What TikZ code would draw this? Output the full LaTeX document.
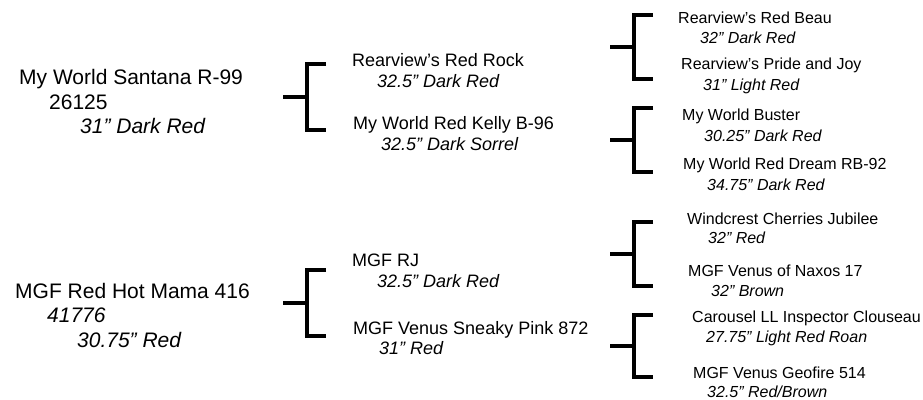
\documentclass[tikz,border=0pt]{standalone}
\usepackage{fontspec}
\setmainfont{Liberation Sans}
\usetikzlibrary{calc}
\newcommand\szA{\fontsize{21}{25}\selectfont}
\newcommand\szB{\fontsize{18}{22}\selectfont}
\newcommand\szC{\fontsize{16}{19}\selectfont}

\begin{document}
\begin{tikzpicture}[x=1pt, y=-1pt,
		every node/.style={anchor=base west, inner sep=0pt},
		genA/.style={font=\szA}, genAi/.style={font=\szA\itshape},
		genB/.style={font=\szB}, genBi/.style={font=\szB\itshape},
		genC/.style={font=\szC}, genCi/.style={font=\szC\itshape},
		bracket/.style={line width=4pt}]
		\useasboundingbox (0,0) rectangle (923,399);

		% generation 0
		\node[genA] (mws) at (19,84) {My World Santana R-99};
		\node[genA] (mwsn) at (49,109) {26125};
		\node[genAi] (mwsh) at (80,133) {31” Dark Red};
		\node[genA] (rhm) at (15,298) {MGF Red Hot Mama 416};
		\node[genAi] (rhmn) at (47,322) {41776};
		\node[genAi] (rhmh) at (77,347) {30.75” Red};

		% generation 1
		\node[genB] (rrr) at (352,66) {Rearview’s Red Rock};
		\node[genBi] (rrrh) at (377,87) {32.5” Dark Red};
		\node[genB] (mwk) at (353,129) {My World Red Kelly B-96};
		\node[genBi] (mwkh) at (381,150) {32.5” Dark Sorrel};
		\node[genB] (rj) at (352,266) {MGF RJ};
		\node[genBi] (rjh) at (377,287) {32.5” Dark Red};
		\node[genB] (vsp) at (353,334) {MGF Venus Sneaky Pink 872};
		\node[genBi] (vsph) at (379,354) {31” Red};

		% generation 2
		\node[genC] (rrb) at (678,23) {Rearview’s Red Beau};
		\node[genCi] (rrbh) at (700,43) {32” Dark Red};
		\node[genC] (rpj) at (681,69) {Rearview’s Pride and Joy};
		\node[genCi] (rpjh) at (703,90) {31” Light Red};
		\node[genC] (mwb) at (682,120) {My World Buster};
		\node[genCi] (mwbh) at (704,141) {30.25” Dark Red};
		\node[genC] (mwd) at (683,169) {My World Red Dream RB-92};
		\node[genCi] (mwdh) at (707,190) {34.75” Dark Red};
		\node[genC] (wcj) at (687,224) {Windcrest Cherries Jubilee};
		\node[genCi] (wcjh) at (708,243) {32” Red};
		\node[genC] (vn) at (688,276) {MGF Venus of Naxos 17};
		\node[genCi] (vnh) at (711,296) {32” Brown};
		\node[genC] (cic) at (692,322) {Carousel LL Inspector Clouseau};
		\node[genCi] (cich) at (706,342) {27.75” Light Red Roan};
		\node[genC] (vg) at (693,378) {MGF Venus Geofire 514};
		\node[genCi] (vgh) at (707,397) {32.5” Red/Brown};

		% brackets
		\foreach \n/\x/\y/\h in {ba/283/97/33, bb/283/303/33, bc/610/47/32, bd/610/140/32, be/610/254/32, bf/610/346/31}{
			\coordinate (\n) at (\x,\y);
			\draw[bracket] (\n) -- ($(\n)+(24,0)$);
			\draw[bracket] ($(\n)+(43,-\h)$) -- ($(\n)+(24,-\h)$) -- ($(\n)+(24,\h)$) -- ($(\n)+(43,\h)$);
		}
	\end{tikzpicture}
\end{document}
